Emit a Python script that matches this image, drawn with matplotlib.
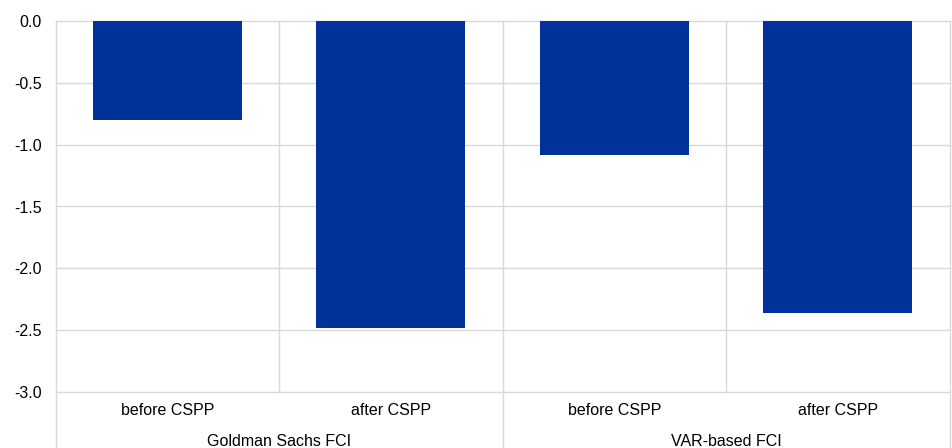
import matplotlib.pyplot as plt
from matplotlib.lines import Line2D

plt.rcParams["font.family"] = ["Liberation Sans", "DejaVu Sans"]

categories = ["before CSPP", "after CSPP", "before CSPP", "after CSPP"]
groups = ["Goldman Sachs FCI", "VAR-based FCI"]
values = [-0.80, -2.48, -1.08, -2.36]
yticks = [0.0, -0.5, -1.0, -1.5, -2.0, -2.5, -3.0]

BLUE = "#003299"
GRID = "#d9d9d9"

fig = plt.figure(figsize=(9.52, 4.48), dpi=100)
W, H = 952, 448
left, right, top, bottom = 55.5, 949.5, 21, 392
ax = fig.add_axes([left / W, 1 - bottom / H, (right - left) / W, (bottom - top) / H])

x = list(range(len(values)))
ax.bar(x, values, width=0.666, color=BLUE, zorder=3)
ax.set_xlim(-0.5, len(values) - 0.5)
ax.set_ylim(-3.0, 0.0)
ax.set_yticks(yticks)
ax.set_yticklabels([f"{t:.1f}" for t in yticks])
ax.tick_params(axis="y", length=0, pad=10, labelsize=11.5, colors="#000000")
ax.set_xticks([])
for s in ax.spines.values():
    s.set_visible(False)

# horizontal gridlines
for t in yticks:
    ax.axhline(t, color=GRID, lw=1, zorder=1, clip_on=False)

# vertical separators: inner ones stop at the axis, group edges run to the bottom
trans = ax.get_xaxis_transform()
for xi in [-0.5, 0.5, 1.5, 2.5, 3.5]:
    long_line = xi in (-0.5, 1.5, 3.5)
    y0 = -(H - bottom) / (bottom - top) if long_line else 0
    ax.add_line(Line2D([xi, xi], [y0, 1], transform=trans, color=GRID, lw=1,
                       clip_on=False, zorder=1))

# category labels
for xi, lab in zip(x, categories):
    ax.text(xi, -(410 - bottom) / (bottom - top), lab, transform=trans,
            ha="center", va="center", fontsize=11.5)

# group labels
for gi, g in enumerate(groups):
    ax.text(gi * 2 + 0.5, -(441 - bottom) / (bottom - top), g, transform=trans,
            ha="center", va="center", fontsize=11.5)

fig.savefig("out.png", dpi=100)
